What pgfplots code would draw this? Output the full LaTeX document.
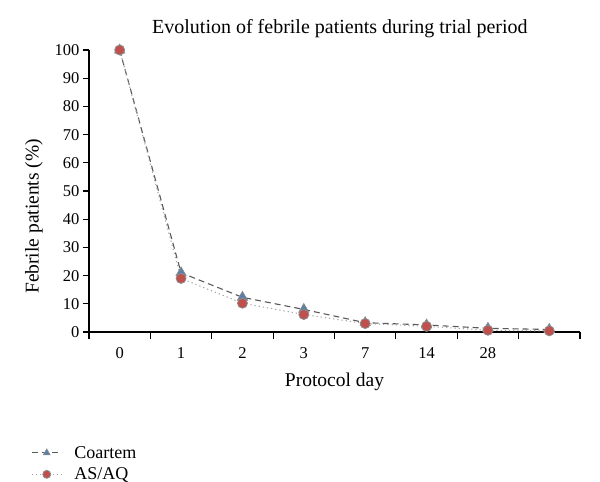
\documentclass[border=0pt]{standalone}
\usepackage{pgfplots}
\pgfplotsset{compat=1.18}
\usepackage{fontspec}
\setmainfont{Liberation Serif}
\definecolor{cline}{HTML}{595959}
\definecolor{cmark}{HTML}{5B7FA6}
\definecolor{aline}{HTML}{A6A6A6}
\definecolor{amark}{HTML}{C0504D}
\definecolor{aedge}{HTML}{8C8C8C}
\begin{document}
\begin{tikzpicture}[x=1pt,y=1pt]
\path[use as bounding box] (0,0) rectangle (600,482);
\begin{axis}[
  at={(89pt,150pt)}, anchor=south west,
  scale only axis, width=491pt, height=282pt,
  xmin=-0.5, xmax=7.5, ymin=0, ymax=100,
  axis x line*=bottom, axis y line*=left,
  axis line style={black, line width=1.2pt},
  xtick={0,...,6}, xticklabels={0,1,2,3,7,14,28},
  major x tick style={draw=none},
  minor xtick={-0.5,0.5,...,7.5},
  minor tick length=7pt,
  minor x tick style={black, line width=1.2pt},
  ytick={0,10,...,100},
  y tick style={black, line width=1.2pt},
  major tick length=6pt,
  tick align=outside,
  tick label style={font=\fontsize{16.5}{18}\selectfont},
  /pgf/number format/assume math mode=true,
  xticklabel style={yshift=-6pt},
  yticklabel style={xshift=0pt},
  xlabel={Protocol day},
  ylabel={Febrile patients (\%)},
  label style={font=\fontsize{19.5}{22}\selectfont},
  xlabel style={at={(axis description cs:0.5,-0.177)}, anchor=center},
  ylabel style={at={(axis description cs:-0.112,0.41)}, anchor=center},
  title={Evolution of febrile patients during trial period},
  title style={font=\fontsize{20}{22}\selectfont, at={(axis description cs:0.511,1)}, anchor=center, yshift=15pt},
  legend style={at={(axis description cs:0,0)}, anchor=north west, xshift=-61pt, yshift=-110pt,
    draw=none, fill=none, font=\fontsize{18}{20}\selectfont, row sep=4pt,
    nodes={inner xsep=12pt}},
  legend cell align=left,
  legend image code/.code={\draw[mark repeat=2,mark phase=2,mark size=4pt] plot coordinates {(0pt,0pt) (15pt,0pt) (30pt,0pt)};},
  clip=false,
]
\addplot[cline, line width=1.1pt, dash pattern=on 6pt off 4pt,
  mark=triangle*, mark size=6pt, mark options={solid, fill=cmark, draw=aedge, line width=0.6pt}]
  coordinates {(0,100) (1,21) (2,12.3) (3,8) (4,3.3) (5,2.5) (6,1.3) (7,0.9)};
\addlegendentry{Coartem}
\addplot[aline, line width=1.1pt, dash pattern=on 1.2pt off 3pt,
  mark=*, mark size=5pt, mark options={solid, fill=amark, draw=aedge, line width=0.8pt}]
  coordinates {(0,100) (1,19) (2,10.2) (3,6.2) (4,3) (5,2) (6,0.6) (7,0.4)};
\addlegendentry{AS/AQ}
\end{axis}
\end{tikzpicture}
\end{document}
